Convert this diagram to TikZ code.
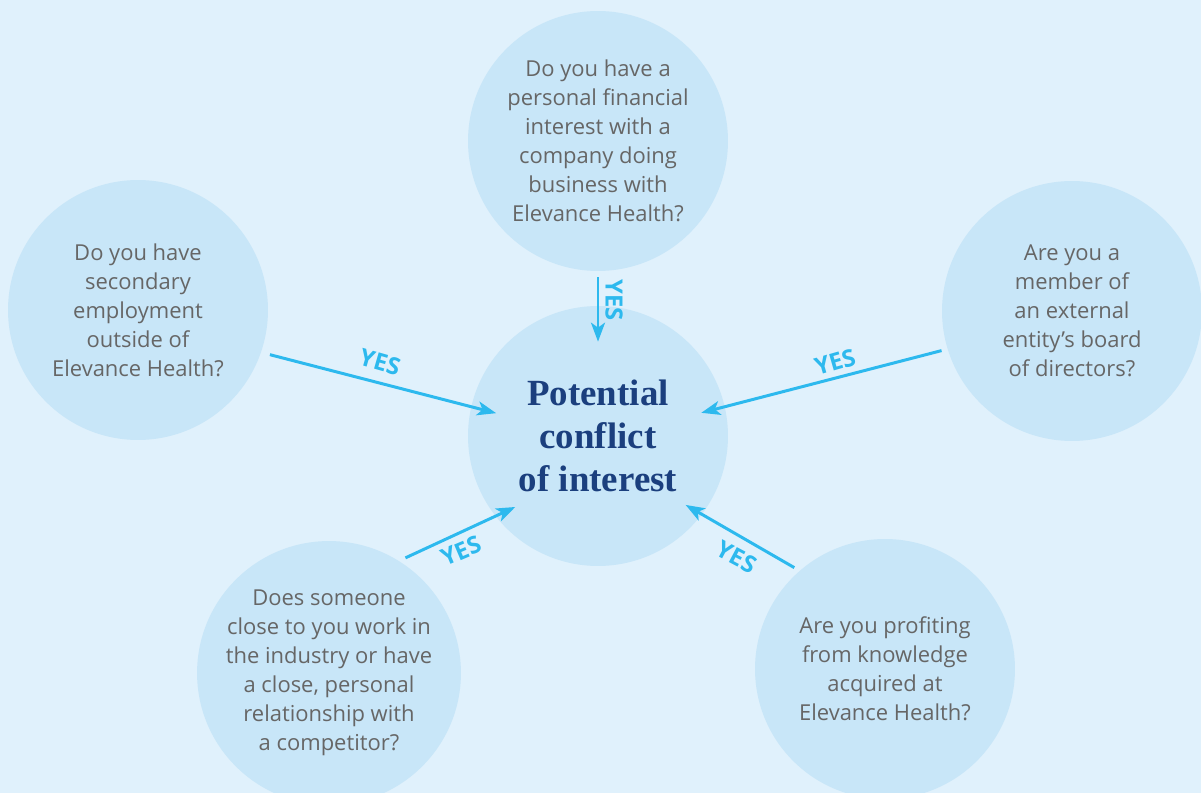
\documentclass[tikz,border=0pt]{standalone}
\usepackage{fontspec}
\setmainfont{Open Sans}
\newfontfamily\headfont{Liberation Serif}
\usetikzlibrary{arrows.meta}

\definecolor{bgblue}{HTML}{E0F1FC}
\definecolor{discblue}{HTML}{C8E6F8}
\definecolor{yesblue}{HTML}{2DB9EE}
\definecolor{askgrey}{HTML}{666666}
\definecolor{navy}{HTML}{1B3F7E}

\begin{document}
\begin{tikzpicture}[x=0.02cm, y=-0.02cm]

        % one unit is one pixel of the page, y runs downwards
        \tikzset{
            disc/.style={circle, fill=discblue, minimum size=5.2cm,
                inner sep=0pt, align=center, text=askgrey,
                font=\fontsize{12.5}{16.5}\selectfont},
            yesarrow/.style={draw=yesblue, line width=1.7pt,
                -{Stealth[length=0.38cm, width=0.28cm, inset=0.1cm]}},
            yeslabel/.style={text=yesblue, inner sep=0pt,
                font=\bfseries\fontsize{13.5}{15}\selectfont}
        }

        \useasboundingbox (0, 0) rectangle (1201, 793);
        \fill[bgblue] (0, 0) rectangle (1201, 793);

        \begin{scope}
            \node[disc, text=navy,
            font=\headfont\bfseries\fontsize{21}{24.4}\selectfont]
            (PC) at (598, 436) {Potential\\conflict\\of interest};

            \node[disc] (Q1) at (598, 141)
            {Do you have a\\personal financial\\interest with a\\company doing\\business with\\Elevance Health?};
            \node[disc] (Q2) at (138, 310)
            {Do you have\\secondary\\employment\\outside of\\Elevance Health?};
            \node[disc] (Q3) at (1072, 311)
            {Are you a\\member of\\an external\\entity’s board\\of directors?};
            \node[disc] (Q4) at (329, 673)
            {Does someone\\close to you work in\\the industry or have\\a close, personal\\relationship with\\a competitor?};
            \node[disc] (Q5) at (885, 669)
            {Are you profiting\\from knowledge\\acquired at\\Elevance Health?};
        \end{scope}

        \begin{scope}[yesarrow]
            \draw[shorten <=1.2mm, shorten >=-7.2mm] (Q1.south) -- (PC.north);
            \draw[shorten <=1.8mm, shorten >=-5.2mm] (Q2.-19) -- (PC.167);
            \draw[shorten <=1.2mm, shorten >=-4.9mm] (Q3.197.5) -- (PC.13);
            \draw[shorten <=1.4mm, shorten >=-4.4mm] (Q4.58.5) -- (PC.218.5);
            \draw[shorten <=1.2mm, shorten >=-3.8mm] (Q5.131) -- (PC.-37.5);
        \end{scope}

        \node[yeslabel, rotate=-90] (Y1) at (614, 300) {YES};
        \node[yeslabel, rotate=-16] (Y2) at (380, 362) {YES};
        \node[yeslabel, rotate=16] (Y3) at (835, 362) {YES};
        \node[yeslabel, rotate=23] (Y4) at (461, 551) {YES};
        \node[yeslabel, rotate=-28] (Y5) at (737, 557) {YES};

\end{tikzpicture}
\end{document}
